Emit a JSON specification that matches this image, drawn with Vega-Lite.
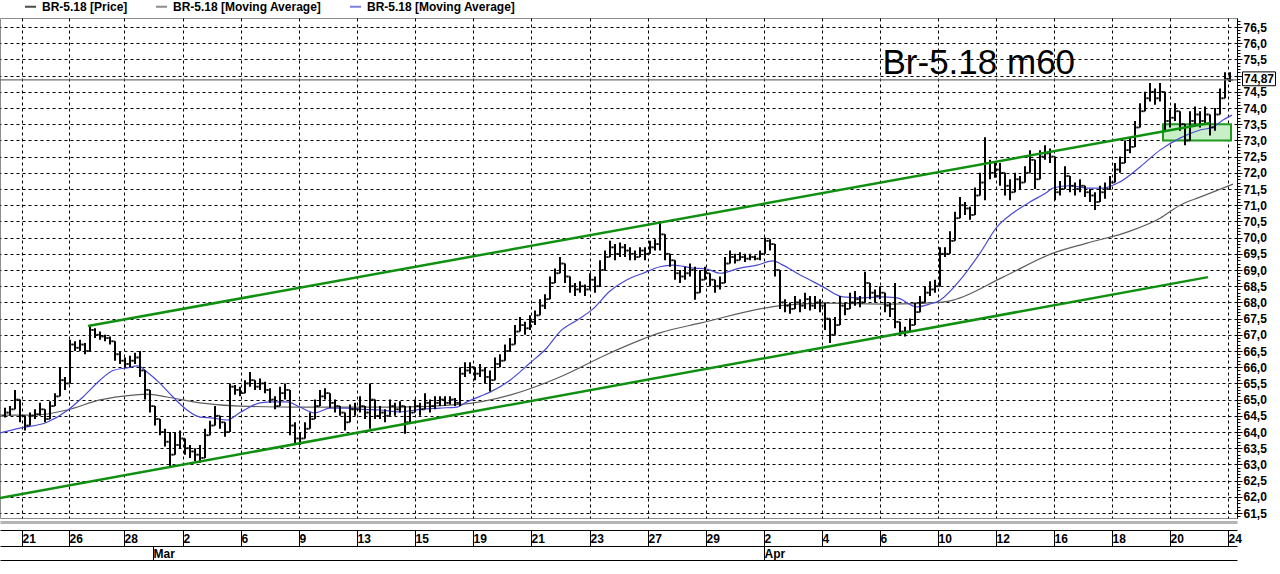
{
  "$schema": "https://vega.github.io/schema/vega-lite/v6.json",
  "width": 1237,
  "height": 500,
  "autosize": {"type": "none"},
  "padding": {"left": 0, "top": 18, "right": 43, "bottom": 56},
  "background": "white",
  "config": {
    "view": {"stroke": "#8c8c8c", "strokeWidth": 1},
    "axis": {"labelFont": "Liberation Sans", "labelColor": "#000000", "titleFont": "Liberation Sans"},
    "text": {"font": "Liberation Sans"},
    "legend": {
      "orient": "none", "legendX": 24, "legendY": -18, "direction": "horizontal",
      "symbolType": "stroke", "symbolSize": 121, "symbolStrokeWidth": 2,
      "labelFont": "Liberation Sans", "labelFontSize": 12, "labelFontWeight": "bold", "labelColor": "#000000",
      "columnPadding": 24, "labelOffset": 5, "padding": 0
    }
  },
  "datasets": {
    "bars": [
      {"n":1,"o":64.5,"h":64.75,"l":64.45,"c":64.6},
      {"n":2,"o":64.6,"h":64.8,"l":64.5,"c":64.7},
      {"n":3,"o":64.7,"h":65.3,"l":64.7,"c":65.0},
      {"n":4,"o":65.0,"h":65.0,"l":64.3,"c":64.5},
      {"n":5,"o":64.5,"h":64.5,"l":64.05,"c":64.2},
      {"n":6,"o":64.2,"h":64.6,"l":64.2,"c":64.5},
      {"n":7,"o":64.5,"h":64.7,"l":64.4,"c":64.55},
      {"n":8,"o":64.55,"h":64.9,"l":64.5,"c":64.7},
      {"n":9,"o":64.7,"h":64.7,"l":64.3,"c":64.4},
      {"n":10,"o":64.4,"h":64.95,"l":64.4,"c":64.8},
      {"n":11,"o":64.8,"h":65.2,"l":64.8,"c":65.1},
      {"n":12,"o":65.1,"h":66.0,"l":65.1,"c":65.6},
      {"n":13,"o":65.6,"h":65.7,"l":65.3,"c":65.5},
      {"n":14,"o":65.5,"h":66.85,"l":65.5,"c":66.7},
      {"n":15,"o":66.7,"h":66.8,"l":66.5,"c":66.6},
      {"n":16,"o":66.6,"h":66.85,"l":66.5,"c":66.7},
      {"n":17,"o":66.7,"h":66.75,"l":66.4,"c":66.5},
      {"n":18,"o":66.5,"h":67.3,"l":66.5,"c":67.15},
      {"n":19,"o":67.15,"h":67.2,"l":66.9,"c":67.0},
      {"n":20,"o":67.0,"h":67.1,"l":66.85,"c":66.95},
      {"n":21,"o":66.95,"h":67.0,"l":66.8,"c":66.9},
      {"n":22,"o":66.9,"h":66.95,"l":66.7,"c":66.8},
      {"n":23,"o":66.8,"h":66.8,"l":66.2,"c":66.4},
      {"n":24,"o":66.4,"h":66.5,"l":66.1,"c":66.2},
      {"n":25,"o":66.2,"h":66.3,"l":66.0,"c":66.1},
      {"n":26,"o":66.1,"h":66.35,"l":66.0,"c":66.2},
      {"n":27,"o":66.2,"h":66.45,"l":66.1,"c":66.3},
      {"n":28,"o":66.3,"h":66.5,"l":65.7,"c":65.9},
      {"n":29,"o":65.9,"h":65.9,"l":65.0,"c":65.3},
      {"n":30,"o":65.3,"h":65.3,"l":64.6,"c":64.8},
      {"n":31,"o":64.8,"h":64.8,"l":64.2,"c":64.4},
      {"n":32,"o":64.4,"h":64.4,"l":63.9,"c":64.0},
      {"n":33,"o":64.0,"h":64.1,"l":63.55,"c":63.7},
      {"n":34,"o":63.7,"h":64.0,"l":62.95,"c":63.3},
      {"n":35,"o":63.3,"h":64.0,"l":63.3,"c":63.6},
      {"n":36,"o":63.6,"h":64.05,"l":63.5,"c":63.8},
      {"n":37,"o":63.8,"h":63.8,"l":63.3,"c":63.5},
      {"n":38,"o":63.5,"h":63.6,"l":63.2,"c":63.4},
      {"n":39,"o":63.4,"h":63.5,"l":63.1,"c":63.3},
      {"n":40,"o":63.3,"h":63.6,"l":63.05,"c":63.2},
      {"n":41,"o":63.2,"h":64.1,"l":63.2,"c":63.9},
      {"n":42,"o":63.9,"h":64.35,"l":63.9,"c":64.2},
      {"n":43,"o":64.2,"h":64.8,"l":64.2,"c":64.5},
      {"n":44,"o":64.5,"h":64.5,"l":64.1,"c":64.3},
      {"n":45,"o":64.3,"h":64.3,"l":63.85,"c":64.0},
      {"n":46,"o":64.0,"h":65.5,"l":64.0,"c":65.4},
      {"n":47,"o":65.4,"h":65.45,"l":65.15,"c":65.3},
      {"n":48,"o":65.3,"h":65.4,"l":65.1,"c":65.2},
      {"n":49,"o":65.2,"h":65.6,"l":65.2,"c":65.5},
      {"n":50,"o":65.5,"h":65.85,"l":65.4,"c":65.6},
      {"n":51,"o":65.6,"h":65.6,"l":65.3,"c":65.4},
      {"n":52,"o":65.4,"h":65.65,"l":65.3,"c":65.5},
      {"n":53,"o":65.5,"h":65.55,"l":65.2,"c":65.3},
      {"n":54,"o":65.3,"h":65.35,"l":64.9,"c":65.0},
      {"n":55,"o":65.0,"h":65.1,"l":64.7,"c":64.8},
      {"n":56,"o":64.8,"h":65.4,"l":64.8,"c":65.2},
      {"n":57,"o":65.2,"h":65.5,"l":65.0,"c":65.3},
      {"n":58,"o":65.3,"h":65.3,"l":63.9,"c":64.2},
      {"n":59,"o":64.2,"h":64.3,"l":63.65,"c":63.8},
      {"n":60,"o":63.8,"h":64.0,"l":63.6,"c":63.8},
      {"n":61,"o":63.8,"h":64.3,"l":63.8,"c":64.1},
      {"n":62,"o":64.1,"h":64.6,"l":64.1,"c":64.4},
      {"n":63,"o":64.4,"h":65.0,"l":64.4,"c":64.8},
      {"n":64,"o":64.8,"h":65.3,"l":64.8,"c":65.1},
      {"n":65,"o":65.1,"h":65.35,"l":65.0,"c":65.2},
      {"n":66,"o":65.2,"h":65.2,"l":64.75,"c":64.9},
      {"n":67,"o":64.9,"h":65.0,"l":64.6,"c":64.8},
      {"n":68,"o":64.8,"h":64.8,"l":64.5,"c":64.6},
      {"n":69,"o":64.6,"h":64.6,"l":64.05,"c":64.3},
      {"n":70,"o":64.3,"h":64.85,"l":64.3,"c":64.7},
      {"n":71,"o":64.7,"h":64.9,"l":64.5,"c":64.7},
      {"n":72,"o":64.7,"h":65.1,"l":64.6,"c":64.8},
      {"n":73,"o":64.8,"h":64.8,"l":64.4,"c":64.6},
      {"n":74,"o":64.6,"h":65.5,"l":64.1,"c":65.0},
      {"n":75,"o":65.0,"h":65.0,"l":64.4,"c":64.5},
      {"n":76,"o":64.5,"h":64.8,"l":64.4,"c":64.6},
      {"n":77,"o":64.6,"h":64.7,"l":64.3,"c":64.5},
      {"n":78,"o":64.5,"h":65.0,"l":64.5,"c":64.8},
      {"n":79,"o":64.8,"h":64.9,"l":64.5,"c":64.7},
      {"n":80,"o":64.7,"h":64.95,"l":64.6,"c":64.8},
      {"n":81,"o":64.8,"h":64.8,"l":63.95,"c":64.3},
      {"n":82,"o":64.3,"h":64.8,"l":64.3,"c":64.6},
      {"n":83,"o":64.6,"h":65.0,"l":64.6,"c":64.8},
      {"n":84,"o":64.8,"h":64.9,"l":64.5,"c":64.7},
      {"n":85,"o":64.7,"h":65.2,"l":64.7,"c":64.9},
      {"n":86,"o":64.9,"h":65.0,"l":64.6,"c":64.8},
      {"n":87,"o":64.8,"h":65.1,"l":64.7,"c":64.9},
      {"n":88,"o":64.9,"h":65.1,"l":64.8,"c":65.0},
      {"n":89,"o":65.0,"h":65.1,"l":64.8,"c":64.9},
      {"n":90,"o":64.9,"h":65.1,"l":64.85,"c":65.0},
      {"n":91,"o":65.0,"h":65.05,"l":64.8,"c":64.9},
      {"n":92,"o":64.9,"h":66.0,"l":64.8,"c":65.8},
      {"n":93,"o":65.8,"h":66.15,"l":65.7,"c":65.9},
      {"n":94,"o":65.9,"h":66.15,"l":65.8,"c":66.0},
      {"n":95,"o":66.0,"h":66.0,"l":65.6,"c":65.8},
      {"n":96,"o":65.8,"h":66.1,"l":65.7,"c":65.9},
      {"n":97,"o":65.9,"h":66.0,"l":65.5,"c":65.7},
      {"n":98,"o":65.7,"h":65.9,"l":65.25,"c":65.6},
      {"n":99,"o":65.6,"h":66.3,"l":65.6,"c":66.1},
      {"n":100,"o":66.1,"h":66.4,"l":66.0,"c":66.2},
      {"n":101,"o":66.2,"h":66.7,"l":66.2,"c":66.5},
      {"n":102,"o":66.5,"h":66.9,"l":66.5,"c":66.7},
      {"n":103,"o":66.7,"h":67.3,"l":66.7,"c":67.1},
      {"n":104,"o":67.1,"h":67.55,"l":67.1,"c":67.3},
      {"n":105,"o":67.3,"h":67.4,"l":67.0,"c":67.2},
      {"n":106,"o":67.2,"h":67.6,"l":67.15,"c":67.4},
      {"n":107,"o":67.4,"h":67.75,"l":67.3,"c":67.6},
      {"n":108,"o":67.6,"h":68.1,"l":67.6,"c":67.9},
      {"n":109,"o":67.9,"h":68.25,"l":67.8,"c":68.1},
      {"n":110,"o":68.1,"h":68.8,"l":68.1,"c":68.6},
      {"n":111,"o":68.6,"h":69.05,"l":68.6,"c":68.9},
      {"n":112,"o":68.9,"h":69.4,"l":68.9,"c":69.2},
      {"n":113,"o":69.2,"h":69.2,"l":68.6,"c":68.8},
      {"n":114,"o":68.8,"h":68.8,"l":68.3,"c":68.5},
      {"n":115,"o":68.5,"h":68.6,"l":68.2,"c":68.4},
      {"n":116,"o":68.4,"h":68.65,"l":68.3,"c":68.5},
      {"n":117,"o":68.5,"h":68.55,"l":68.2,"c":68.4},
      {"n":118,"o":68.4,"h":68.9,"l":68.4,"c":68.7},
      {"n":119,"o":68.7,"h":68.8,"l":68.3,"c":68.5},
      {"n":120,"o":68.5,"h":69.3,"l":68.5,"c":69.0},
      {"n":121,"o":69.0,"h":69.6,"l":69.0,"c":69.4},
      {"n":122,"o":69.4,"h":69.9,"l":69.4,"c":69.7},
      {"n":123,"o":69.7,"h":69.8,"l":69.3,"c":69.5},
      {"n":124,"o":69.5,"h":69.85,"l":69.4,"c":69.7},
      {"n":125,"o":69.7,"h":69.8,"l":69.4,"c":69.6},
      {"n":126,"o":69.6,"h":69.7,"l":69.3,"c":69.5},
      {"n":127,"o":69.5,"h":69.6,"l":69.3,"c":69.4},
      {"n":128,"o":69.4,"h":69.7,"l":69.4,"c":69.6},
      {"n":129,"o":69.6,"h":69.7,"l":69.3,"c":69.5},
      {"n":130,"o":69.5,"h":69.9,"l":69.5,"c":69.7},
      {"n":131,"o":69.7,"h":69.95,"l":69.6,"c":69.8},
      {"n":132,"o":69.8,"h":70.45,"l":69.6,"c":70.1},
      {"n":133,"o":70.1,"h":70.1,"l":69.3,"c":69.5},
      {"n":134,"o":69.5,"h":69.5,"l":69.1,"c":69.3},
      {"n":135,"o":69.3,"h":69.3,"l":68.7,"c":68.9},
      {"n":136,"o":68.9,"h":69.0,"l":68.6,"c":68.8},
      {"n":137,"o":68.8,"h":69.1,"l":68.7,"c":68.9},
      {"n":138,"o":68.9,"h":69.2,"l":68.8,"c":69.0},
      {"n":139,"o":69.0,"h":69.1,"l":68.08,"c":68.3},
      {"n":140,"o":68.3,"h":69.0,"l":68.3,"c":68.7},
      {"n":141,"o":68.7,"h":69.1,"l":68.7,"c":68.9},
      {"n":142,"o":68.9,"h":68.9,"l":68.5,"c":68.7},
      {"n":143,"o":68.7,"h":68.7,"l":68.3,"c":68.5},
      {"n":144,"o":68.5,"h":68.8,"l":68.4,"c":68.6},
      {"n":145,"o":68.6,"h":69.4,"l":68.6,"c":69.2},
      {"n":146,"o":69.2,"h":69.6,"l":69.2,"c":69.4},
      {"n":147,"o":69.4,"h":69.5,"l":69.2,"c":69.3},
      {"n":148,"o":69.3,"h":69.55,"l":69.3,"c":69.4},
      {"n":149,"o":69.4,"h":69.5,"l":69.25,"c":69.35},
      {"n":150,"o":69.35,"h":69.5,"l":69.3,"c":69.4},
      {"n":151,"o":69.4,"h":69.45,"l":69.3,"c":69.35},
      {"n":152,"o":69.35,"h":69.6,"l":69.3,"c":69.5},
      {"n":153,"o":69.5,"h":70.0,"l":69.5,"c":69.9},
      {"n":154,"o":69.9,"h":69.95,"l":69.6,"c":69.8},
      {"n":155,"o":69.8,"h":69.8,"l":68.8,"c":69.0},
      {"n":156,"o":69.0,"h":69.0,"l":67.8,"c":68.0},
      {"n":157,"o":68.0,"h":68.1,"l":67.7,"c":67.9},
      {"n":158,"o":67.9,"h":68.0,"l":67.65,"c":67.8},
      {"n":159,"o":67.8,"h":68.2,"l":67.8,"c":68.0},
      {"n":160,"o":68.0,"h":68.1,"l":67.7,"c":67.9},
      {"n":161,"o":67.9,"h":68.3,"l":67.8,"c":68.1},
      {"n":162,"o":68.1,"h":68.2,"l":67.75,"c":67.9},
      {"n":163,"o":67.9,"h":68.2,"l":67.8,"c":68.0},
      {"n":164,"o":68.0,"h":68.1,"l":67.7,"c":67.9},
      {"n":165,"o":67.9,"h":68.0,"l":67.15,"c":67.5},
      {"n":166,"o":67.5,"h":67.5,"l":66.75,"c":67.0},
      {"n":167,"o":67.0,"h":67.55,"l":67.0,"c":67.3},
      {"n":168,"o":67.3,"h":68.2,"l":67.3,"c":67.9},
      {"n":169,"o":67.9,"h":68.0,"l":67.6,"c":67.8},
      {"n":170,"o":67.8,"h":68.3,"l":67.8,"c":68.0},
      {"n":171,"o":68.0,"h":68.35,"l":67.9,"c":68.1},
      {"n":172,"o":68.1,"h":68.2,"l":67.85,"c":68.0},
      {"n":173,"o":68.0,"h":68.95,"l":68.0,"c":68.6},
      {"n":174,"o":68.6,"h":68.6,"l":68.1,"c":68.3},
      {"n":175,"o":68.3,"h":68.4,"l":68.0,"c":68.2},
      {"n":176,"o":68.2,"h":68.5,"l":68.1,"c":68.3},
      {"n":177,"o":68.3,"h":68.3,"l":67.7,"c":67.9},
      {"n":178,"o":67.9,"h":68.0,"l":67.55,"c":67.8},
      {"n":179,"o":67.8,"h":68.6,"l":67.2,"c":67.4},
      {"n":180,"o":67.4,"h":67.4,"l":67.0,"c":67.1},
      {"n":181,"o":67.1,"h":67.25,"l":66.95,"c":67.1},
      {"n":182,"o":67.1,"h":67.5,"l":67.1,"c":67.3},
      {"n":183,"o":67.3,"h":68.0,"l":67.3,"c":67.7},
      {"n":184,"o":67.7,"h":68.2,"l":67.7,"c":68.0},
      {"n":185,"o":68.0,"h":68.5,"l":68.0,"c":68.3},
      {"n":186,"o":68.3,"h":68.65,"l":68.2,"c":68.4},
      {"n":187,"o":68.4,"h":68.7,"l":68.3,"c":68.5},
      {"n":188,"o":68.5,"h":69.7,"l":68.5,"c":69.5},
      {"n":189,"o":69.5,"h":69.7,"l":69.4,"c":69.5},
      {"n":190,"o":69.5,"h":70.2,"l":69.5,"c":69.9},
      {"n":191,"o":69.9,"h":70.8,"l":69.9,"c":70.6},
      {"n":192,"o":70.6,"h":71.25,"l":70.6,"c":71.0},
      {"n":193,"o":71.0,"h":71.1,"l":70.7,"c":70.9},
      {"n":194,"o":70.9,"h":70.95,"l":70.55,"c":70.7},
      {"n":195,"o":70.7,"h":71.55,"l":70.7,"c":71.3},
      {"n":196,"o":71.3,"h":72.0,"l":71.3,"c":71.7},
      {"n":197,"o":71.7,"h":73.1,"l":71.15,"c":72.3},
      {"n":198,"o":72.3,"h":72.4,"l":71.8,"c":72.0},
      {"n":199,"o":72.0,"h":72.3,"l":71.85,"c":72.1},
      {"n":200,"o":72.1,"h":72.3,"l":71.6,"c":72.0},
      {"n":201,"o":72.0,"h":72.0,"l":71.3,"c":71.6},
      {"n":202,"o":71.6,"h":71.8,"l":71.15,"c":71.4},
      {"n":203,"o":71.4,"h":72.0,"l":71.4,"c":71.8},
      {"n":204,"o":71.8,"h":71.9,"l":71.5,"c":71.7},
      {"n":205,"o":71.7,"h":72.2,"l":71.7,"c":72.0},
      {"n":206,"o":72.0,"h":72.7,"l":72.0,"c":72.4},
      {"n":207,"o":72.4,"h":72.4,"l":71.5,"c":71.8},
      {"n":208,"o":71.8,"h":72.7,"l":71.8,"c":72.5},
      {"n":209,"o":72.5,"h":72.85,"l":72.4,"c":72.6},
      {"n":210,"o":72.6,"h":72.75,"l":72.3,"c":72.5},
      {"n":211,"o":72.5,"h":72.5,"l":71.15,"c":71.4},
      {"n":212,"o":71.4,"h":71.75,"l":71.3,"c":71.5},
      {"n":213,"o":71.5,"h":72.2,"l":71.5,"c":71.9},
      {"n":214,"o":71.9,"h":71.9,"l":71.4,"c":71.6},
      {"n":215,"o":71.6,"h":71.7,"l":71.3,"c":71.5},
      {"n":216,"o":71.5,"h":71.8,"l":71.4,"c":71.6},
      {"n":217,"o":71.6,"h":71.6,"l":71.25,"c":71.4},
      {"n":218,"o":71.4,"h":71.5,"l":71.1,"c":71.3},
      {"n":219,"o":71.3,"h":71.4,"l":70.85,"c":71.1},
      {"n":220,"o":71.1,"h":71.6,"l":71.1,"c":71.4},
      {"n":221,"o":71.4,"h":71.7,"l":71.2,"c":71.5},
      {"n":222,"o":71.5,"h":71.9,"l":71.5,"c":71.7},
      {"n":223,"o":71.7,"h":72.3,"l":71.7,"c":72.1},
      {"n":224,"o":72.1,"h":72.5,"l":72.0,"c":72.3},
      {"n":225,"o":72.3,"h":73.0,"l":72.3,"c":72.7},
      {"n":226,"o":72.7,"h":73.1,"l":72.6,"c":72.8},
      {"n":227,"o":72.8,"h":73.6,"l":72.8,"c":73.4},
      {"n":228,"o":73.4,"h":74.15,"l":73.4,"c":73.9},
      {"n":229,"o":73.9,"h":74.5,"l":73.9,"c":74.3},
      {"n":230,"o":74.3,"h":74.77,"l":74.2,"c":74.5},
      {"n":231,"o":74.5,"h":74.6,"l":74.1,"c":74.3},
      {"n":232,"o":74.3,"h":74.77,"l":74.2,"c":74.5},
      {"n":233,"o":74.5,"h":74.5,"l":73.3,"c":73.6},
      {"n":234,"o":73.6,"h":73.95,"l":73.4,"c":73.7},
      {"n":235,"o":73.7,"h":74.15,"l":73.6,"c":73.9},
      {"n":236,"o":73.9,"h":73.9,"l":73.3,"c":73.5},
      {"n":237,"o":73.5,"h":73.5,"l":72.85,"c":73.0},
      {"n":238,"o":73.0,"h":73.9,"l":73.0,"c":73.6},
      {"n":239,"o":73.6,"h":74.05,"l":73.5,"c":73.8},
      {"n":240,"o":73.8,"h":73.9,"l":73.4,"c":73.6},
      {"n":241,"o":73.6,"h":74.05,"l":73.5,"c":73.8},
      {"n":242,"o":73.8,"h":73.8,"l":73.15,"c":73.4},
      {"n":243,"o":73.4,"h":74.0,"l":73.3,"c":73.8},
      {"n":244,"o":73.8,"h":74.6,"l":73.8,"c":74.3},
      {"n":245,"o":74.3,"h":75.1,"l":74.3,"c":74.9},
      {"n":246,"o":74.9,"h":75.1,"l":74.8,"c":74.87}
    ],
    "blue": [
      {"n":0,"v":63.97},{"n":4,"v":64.12},{"n":9.4,"v":64.3},{"n":13.6,"v":64.68},{"n":16.6,"v":65.08},
      {"n":20,"v":65.6},{"n":22.6,"v":65.9},{"n":25.4,"v":65.98},{"n":27.6,"v":66.04},{"n":29.4,"v":65.85},
      {"n":32,"v":65.5},{"n":34.6,"v":65.08},{"n":37.4,"v":64.68},{"n":40,"v":64.46},{"n":42.6,"v":64.43},
      {"n":45.4,"v":64.37},{"n":48,"v":64.6},{"n":52,"v":64.9},{"n":54.6,"v":64.93},{"n":57.4,"v":64.93},
      {"n":60,"v":64.77},{"n":63,"v":64.59},{"n":66,"v":64.74},{"n":69.4,"v":64.74},{"n":72.6,"v":64.7},
      {"n":76,"v":64.68},{"n":80,"v":64.62},{"n":84,"v":64.7},{"n":88,"v":64.74},{"n":91.4,"v":64.77},
      {"n":93.4,"v":64.93},{"n":96,"v":65.1},{"n":98,"v":65.23},{"n":102,"v":65.6},{"n":106,"v":66.13},
      {"n":109.4,"v":66.6},{"n":112,"v":67.1},{"n":115.4,"v":67.45},{"n":118.6,"v":67.8},{"n":122,"v":68.35},
      {"n":125.4,"v":68.7},{"n":128.6,"v":68.9},{"n":132,"v":69.1},{"n":134.6,"v":69.15},{"n":138.6,"v":69.06},
      {"n":141.4,"v":69.03},{"n":144,"v":68.9},{"n":148,"v":69.06},{"n":151.4,"v":69.15},{"n":154.6,"v":69.28},
      {"n":156.6,"v":69.15},{"n":159.4,"v":68.9},{"n":162,"v":68.69},{"n":164.6,"v":68.48},{"n":168.6,"v":68.17},
      {"n":172.6,"v":68.14},{"n":176,"v":68.17},{"n":179.4,"v":68.14},{"n":183.4,"v":67.86},{"n":186,"v":67.95},
      {"n":188,"v":68.07},{"n":192,"v":68.69},{"n":196,"v":69.52},{"n":199.4,"v":70.33},{"n":202.6,"v":70.76},
      {"n":206,"v":71.1},{"n":209.4,"v":71.4},{"n":210.6,"v":71.53},{"n":214,"v":71.6},{"n":217.4,"v":71.53},
      {"n":220.6,"v":71.53},{"n":224,"v":71.72},{"n":228,"v":72.18},{"n":232,"v":72.7},{"n":236,"v":73.07},
      {"n":240,"v":73.32},{"n":242.6,"v":73.41},{"n":244.6,"v":73.63},{"n":246.4,"v":73.78}
    ],
    "gray": [
      {"n":0,"v":64.52},{"n":6.6,"v":64.52},{"n":13.4,"v":64.68},{"n":20,"v":64.99},{"n":26.6,"v":65.14},
      {"n":29.4,"v":65.17},{"n":33.4,"v":65.08},{"n":40,"v":64.9},{"n":48,"v":64.8},{"n":60,"v":64.77},
      {"n":80,"v":64.77},{"n":92,"v":64.85},{"n":102,"v":65.14},{"n":112,"v":65.7},{"n":122,"v":66.44},
      {"n":132,"v":67.06},{"n":140,"v":67.36},{"n":156,"v":67.9},{"n":164.6,"v":67.98},{"n":178,"v":67.95},
      {"n":188,"v":68.0},{"n":190.6,"v":68.07},{"n":200.6,"v":68.78},{"n":210.6,"v":69.52},{"n":217.4,"v":69.83},
      {"n":226,"v":70.2},{"n":232,"v":70.6},{"n":236,"v":71.0},{"n":240,"v":71.25},{"n":246.6,"v":71.65}
    ],
    "chan": [
      {"line":"upper","n":17.6,"v":67.27},{"line":"upper","n":242,"v":73.54},
      {"line":"lower","n":0,"v":61.96},{"line":"lower","n":241.6,"v":68.78}
    ]
  },
  "layer": [
    {
      "data": {"values": [{"n1":232.6,"n2":246.2,"lo":73.0,"hi":73.5}]},
      "mark": {"type": "rect", "fill": "#c9efc9", "stroke": "#1f9a1f", "strokeWidth": 2},
      "encoding": {
        "x": {"field": "n1", "type": "quantitative", "scale": {"domain": [0, 247.4], "nice": false, "zero": false},
              "axis": {"orient": "bottom", "offset": 42, "values": [], "labels": false, "ticks": false, "grid": false, "domain": true, "domainColor": "#000000", "title": null}},
        "x2": {"field": "n2"},
        "y": {"field": "lo", "type": "quantitative", "scale": {"domain": [61.346, 76.778], "nice": false, "zero": false}, "axis": null},
        "y2": {"field": "hi"}
      }
    },
    {
      "data": {"name": "gray"},
      "mark": {"type": "line", "strokeWidth": 1.2, "interpolate": "monotone"},
      "encoding": {
        "x": {"field": "n", "type": "quantitative", "scale": {"domain": [0, 247.4], "nice": false, "zero": false},
              "axis": {"orient": "bottom", "offset": 28, "values": [30.6, 152.8], "labelExpr": "datum.value < 100 ? 'Mar' : 'Apr'",
                       "grid": false, "ticks": true, "tickSize": 14, "tickColor": "#000000", "domain": true, "domainColor": "#000000",
                       "labelAlign": "left", "labelBaseline": "middle", "labelPadding": -7, "labelDx": 3,
                       "labelFontSize": 12, "labelFontWeight": "bold", "labelFlush": false, "labelOverlap": false, "title": null}},
        "y": {"field": "v", "type": "quantitative", "scale": {"domain": [61.346, 76.778], "nice": false, "zero": false}, "axis": null},
        "color": {"datum": "BR-5.18 [Moving Average]", "type": "nominal",
                  "scale": {"domain": ["BR-5.18 [Price]", "BR-5.18 [Moving Average]", "BR-5.18 [Moving Average] "], "range": ["#000000", "#5e5e5e", "#4a4ad4"]},
                  "legend": {"title": null}}
      }
    },
    {
      "data": {"name": "blue"},
      "mark": {"type": "line", "strokeWidth": 1.2, "interpolate": "monotone"},
      "encoding": {
        "x": {"field": "n", "type": "quantitative", "scale": {"domain": [0, 247.4], "nice": false, "zero": false}, "axis": null},
        "y": {"field": "v", "type": "quantitative", "scale": {"domain": [61.346, 76.778], "nice": false, "zero": false}, "axis": null},
        "color": {"datum": "BR-5.18 [Moving Average] ", "type": "nominal", "legend": {"title": null}}
      }
    },
    {
      "data": {"name": "bars"},
      "mark": {"type": "rule", "strokeWidth": 2},
      "encoding": {
        "x": {"field": "n", "type": "quantitative", "scale": {"domain": [0, 247.4], "nice": false, "zero": false},
              "axis": {"orient": "bottom", "offset": 12,
                       "values": [4.4,13.8,24.8,36.6,48.2,59.8,71.4,83,94.6,106.2,118,129.6,141.2,152.8,164.4,176,187.6,199.2,210.8,222.4,234,245.6],
                       "labelExpr": "['21','26','28','2','6','9','13','15','19','21','23','27','29','2','4','6','10','12','16','18','20','24'][indexof([4.4,13.8,24.8,36.6,48.2,59.8,71.4,83,94.6,106.2,118,129.6,141.2,152.8,164.4,176,187.6,199.2,210.8,222.4,234,245.6], datum.value)]",
                       "grid": true, "gridColor": "#000000", "gridDash": [3, 3], "gridOpacity": 1, "gridWidth": 1,
                       "ticks": true, "tickSize": 16, "tickColor": "#000000", "domain": true, "domainColor": "#000000",
                       "labelAlign": "left", "labelBaseline": "middle", "labelPadding": -8, "labelDx": 3,
                       "labelFontSize": 12, "labelFontWeight": "bold", "labelFlush": false, "labelOverlap": false, "title": null}},
        "y": {"field": "l", "type": "quantitative", "scale": {"domain": [61.346, 76.778], "nice": false, "zero": false},
              "axis": {"orient": "right",
                       "values": [61.5,62,62.5,63,63.5,64,64.5,65,65.5,66,66.5,67,67.5,68,68.5,69,69.5,70,70.5,71,71.5,72,72.5,73,73.5,74,74.5,75,75.5,76,76.5],
                       "labelExpr": "datum.value == 75 ? '' : replace(format(datum.value, '.1f'), '.', ',')",
                       "grid": true, "gridColor": "#000000", "gridDash": [3, 3], "gridOpacity": 1, "gridWidth": 1,
                       "ticks": true, "tickSize": 5, "tickColor": "#000000", "domain": true, "domainColor": "#000000",
                       "labelPadding": 1, "labelBaseline": "middle", "labelFontSize": 12, "labelFontWeight": "bold",
                       "labelFlush": false, "labelOverlap": false, "title": null}},
        "y2": {"field": "h"},
        "color": {"datum": "BR-5.18 [Price]", "type": "nominal", "legend": {"title": null}}
      }
    },
    {
      "data": {"name": "bars"},
      "mark": {"type": "tick", "orient": "horizontal", "size": 3, "thickness": 1.8, "xOffset": -1.5},
      "encoding": {
        "x": {"field": "n", "type": "quantitative", "scale": {"domain": [0, 247.4], "nice": false, "zero": false}, "axis": null},
        "y": {"field": "o", "type": "quantitative", "scale": {"domain": [61.346, 76.778], "nice": false, "zero": false},
              "axis": {"orient": "right",
                       "values": [61.4,61.5,61.6,61.7,61.8,61.9,62.0,62.1,62.2,62.3,62.4,62.5,62.6,62.7,62.8,62.9,63.0,63.1,63.2,63.3,63.4,63.5,63.6,63.7,63.8,63.9,64.0,64.1,64.2,64.3,64.4,64.5,64.6,64.7,64.8,64.9,65.0,65.1,65.2,65.3,65.4,65.5,65.6,65.7,65.8,65.9,66.0,66.1,66.2,66.3,66.4,66.5,66.6,66.7,66.8,66.9,67.0,67.1,67.2,67.3,67.4,67.5,67.6,67.7,67.8,67.9,68.0,68.1,68.2,68.3,68.4,68.5,68.6,68.7,68.8,68.9,69.0,69.1,69.2,69.3,69.4,69.5,69.6,69.7,69.8,69.9,70.0,70.1,70.2,70.3,70.4,70.5,70.6,70.7,70.8,70.9,71.0,71.1,71.2,71.3,71.4,71.5,71.6,71.7,71.8,71.9,72.0,72.1,72.2,72.3,72.4,72.5,72.6,72.7,72.8,72.9,73.0,73.1,73.2,73.3,73.4,73.5,73.6,73.7,73.8,73.9,74.0,74.1,74.2,74.3,74.4,74.5,74.6,74.7,74.8,74.9,75.0,75.1,75.2,75.3,75.4,75.5,75.6,75.7,75.8,75.9,76.0,76.1,76.2,76.3,76.4,76.5,76.6,76.7],
                       "labels": false, "grid": false, "domain": false, "ticks": true, "tickSize": 3, "tickColor": "#000000", "title": null}},
        "color": {"datum": "BR-5.18 [Price]", "type": "nominal", "legend": {"title": null}}
      }
    },
    {
      "data": {"name": "bars"},
      "mark": {"type": "tick", "orient": "horizontal", "size": 3, "thickness": 1.8, "xOffset": 1.5},
      "encoding": {
        "x": {"field": "n", "type": "quantitative", "scale": {"domain": [0, 247.4], "nice": false, "zero": false}, "axis": null},
        "y": {"field": "c", "type": "quantitative", "scale": {"domain": [61.346, 76.778], "nice": false, "zero": false}, "axis": null},
        "color": {"datum": "BR-5.18 [Price]", "type": "nominal", "legend": {"title": null}}
      }
    },
    {
      "data": {"name": "chan"},
      "mark": {"type": "line", "color": "#109010", "strokeWidth": 2.5},
      "encoding": {
        "x": {"field": "n", "type": "quantitative", "scale": {"domain": [0, 247.4], "nice": false, "zero": false},
              "axis": {"orient": "bottom", "offset": 4, "values": [], "labels": false, "ticks": false, "grid": false, "domain": true, "domainColor": "#b4b4b4", "domainWidth": 3, "title": null}},
        "y": {"field": "v", "type": "quantitative", "scale": {"domain": [61.346, 76.778], "nice": false, "zero": false}, "axis": null},
        "detail": {"field": "line", "type": "nominal"}
      }
    },
    {
      "data": {"values": [{"v": 74.87}]},
      "mark": {"type": "rule", "color": "#6e6e6e", "strokeWidth": 1.2},
      "encoding": {
        "y": {"field": "v", "type": "quantitative", "scale": {"domain": [61.346, 76.778], "nice": false, "zero": false}, "axis": null}
      }
    },
    {
      "data": {"values": [{"n": 176.5, "v": 75.04, "t": "Br-5.18 m60"}]},
      "mark": {"type": "text", "align": "left", "baseline": "alphabetic", "fontSize": 35, "font": "Liberation Sans", "color": "#000000"},
      "encoding": {
        "x": {"field": "n", "type": "quantitative", "scale": {"domain": [0, 247.4], "nice": false, "zero": false}, "axis": null},
        "y": {"field": "v", "type": "quantitative", "scale": {"domain": [61.346, 76.778], "nice": false, "zero": false}, "axis": null},
        "text": {"field": "t"}
      }
    },
    {
      "data": {"values": [{"n": 247.4, "v": 74.87}]},
      "mark": {"type": "point", "shape": "M-1,-0.42H1V0.42H-1Z", "size": 1089, "filled": true, "fill": "#ffffff", "stroke": "#000000", "strokeWidth": 1, "opacity": 1, "xOffset": 22, "yOffset": -1},
      "encoding": {
        "x": {"field": "n", "type": "quantitative", "scale": {"domain": [0, 247.4], "nice": false, "zero": false}, "axis": null},
        "y": {"field": "v", "type": "quantitative", "scale": {"domain": [61.346, 76.778], "nice": false, "zero": false}, "axis": null}
      }
    },
    {
      "data": {"values": [{"n": 247.4, "v": 74.87, "t": "74,87"}]},
      "mark": {"type": "text", "align": "center", "baseline": "middle", "dx": 22, "dy": -1, "fontSize": 12, "fontWeight": "bold", "font": "Liberation Sans", "color": "#000000"},
      "encoding": {
        "x": {"field": "n", "type": "quantitative", "scale": {"domain": [0, 247.4], "nice": false, "zero": false}, "axis": null},
        "y": {"field": "v", "type": "quantitative", "scale": {"domain": [61.346, 76.778], "nice": false, "zero": false}, "axis": null},
        "text": {"field": "t"}
      }
    }
  ],
  "resolve": {"axis": {"x": "independent", "y": "independent"}}
}
